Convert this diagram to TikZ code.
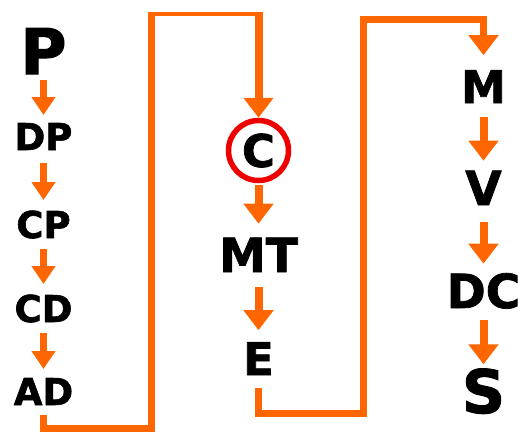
\documentclass[tikz,border=0pt]{standalone}
\usepackage{fontspec}
\setmainfont{DejaVu Sans}
\newfontfamily\heavy{DejaVu Sans Bold}[FakeBold=1.6]
\usetikzlibrary{arrows.meta}
\definecolor{flow}{RGB}{255,102,0}
\definecolor{ring}{RGB}{238,0,0}
\tikzset{
  % letter label: #1 = font size, #2 = cap height
  lbl/.style 2 args={inner sep=0pt, outer sep=0pt, text depth=0pt, text height=#2,
    font=\fontsize{#1}{#1}\selectfont\heavy, anchor=base},
  wire/.style={draw=flow, line width=7pt, line join=miter},
  thinwire/.style={draw=flow, line width=4.5pt},
  flowL/.style={draw=flow, line width=7pt, -{Triangle[width=23pt,length=18pt]}},
  flowR/.style={draw=flow, line width=8pt, -{Triangle[width=29pt,length=20pt]}},
}
\begin{document}
\begin{tikzpicture}[x=1pt,y=-1pt]
\useasboundingbox (0,0) rectangle (520,432);

% left column
\node[lbl={63pt}{46pt}] (P)  at (43.5,74)  {P};
\node[lbl={37pt}{27pt}] (DP) at (43.5,150) {DP};
\node[lbl={37pt}{27pt}] (CP) at (43.5,238) {CP};
\node[lbl={37pt}{27pt}] (CD) at (43.5,322) {CD};
\node[lbl={37pt}{27pt}] (AD) at (43.5,405) {AD};

% middle column
\node[circle, draw=ring, line width=5.5pt, minimum size=60pt, inner sep=0pt,
      text height=32.8pt, text depth=0pt, font=\fontsize{45pt}{45pt}\selectfont\heavy]
      (C) at (258.5,150.5) {C};
\node[lbl={47pt}{34.3pt}] (MT) at (258.5,272) {MT};
\node[lbl={45pt}{32.8pt}] (E)  at (258.5,375) {E};

% right column
\node[lbl={45pt}{32.8pt}] (M)  at (483.5,103) {M};
\node[lbl={47pt}{34.3pt}] (V)  at (483.5,205) {V};
\node[lbl={47pt}{34.3pt}] (DC) at (483.5,308) {DC};
\node[lbl={60pt}{43.7pt}] (S)  at (483.5,413) {S};

% corner points of the two long links
\coordinate (a1) at (151,428);
\coordinate (a2) at (151,11.75);
\coordinate (a3) at (147.5,14);
\coordinate (a4) at (262,14);
\coordinate (a5) at (258.5,11.75);
\coordinate (b1) at (363,413);
\coordinate (b2) at (483.5,19);

% left column arrows
\draw[flowL, shorten <=6pt,  shorten >=8pt]  (P.south)  -- (DP.north);
\draw[flowL, shorten <=13pt, shorten >=11pt] (DP.south) -- (CP.north);
\draw[flowL, shorten <=11pt, shorten >=11pt] (CP.south) -- (CD.north);
\draw[flowL, shorten <=11pt, shorten >=9pt]  (CD.south) -- (AD.north);

% link from AD over to C
\draw[thinwire] (a3) -- (a4);
\draw[wire] ([yshift=-10pt]AD.south) |- (a1) -- (a2);
\draw[flowR] (a5) -- (C.north);

% middle column arrows
\draw[flowR, shorten <=2pt,  shorten >=14pt] (C.south)  -- (MT.north);
\draw[flowR, shorten <=15pt, shorten >=12pt] (MT.south) -- (E.north);

% link from E over to M
\draw[wire, -{Triangle[width=29pt,length=20pt]}, shorten >=15pt]
  ([yshift=-13pt]E.south) |- (b1) |- (b2) -- (M.north);

% right column arrows
\draw[flowR, shorten <=14pt, shorten >=10pt] (M.south)  -- (V.north);
\draw[flowR, shorten <=17pt, shorten >=10pt] (V.south)  -- (DC.north);
\draw[flowR, shorten <=12pt, shorten >=5pt]  (DC.south) -- (S.north);
\end{tikzpicture}
\end{document}
